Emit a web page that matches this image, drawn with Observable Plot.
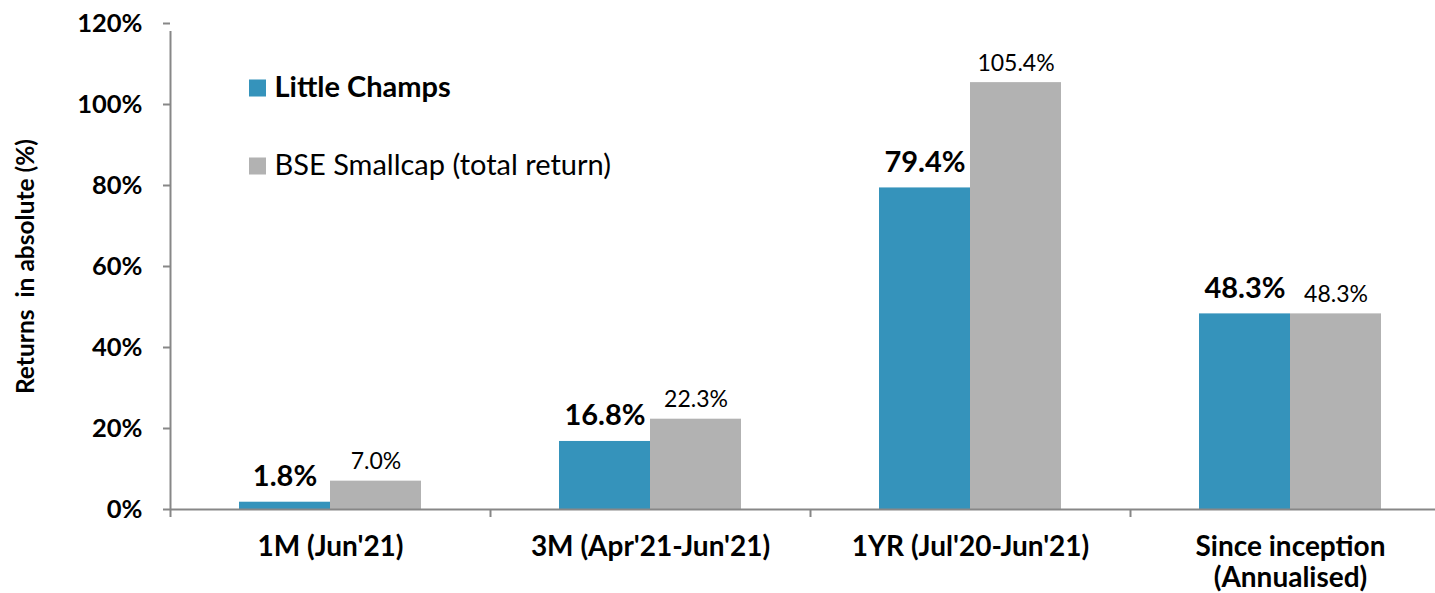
<!DOCTYPE html>
<html>
<head>
<meta charset="utf-8">
<script src="https://cdn.jsdelivr.net/npm/d3@7"></script>
<script src="https://cdn.jsdelivr.net/npm/@observablehq/plot@0.6"></script>
<style>
  html, body { margin: 0; padding: 0; background: #fff; overflow: hidden; }
  #chart { width: 1435px; height: 593px; overflow: hidden; }
</style>
</head>
<body>
<div id="chart"></div>
<script>
const categories = ["1M (Jun'21)", "3M (Apr'21-Jun'21)", "1YR (Jul'20-Jun'21)", "Since inception\n(Annualised)"];
const littleChamps = [1.8, 16.8, 79.4, 48.3];
const bseSmallcap = [7.0, 22.3, 105.4, 48.3];
const seriesNames = ["Little Champs", "BSE Smallcap (total return)"];
const yTicks = [0, 20, 40, 60, 80, 100, 120];
const yLabel = "Returns  in absolute (%)";

const blue = "#3593bb";
const gray = "#b2b2b2";
const axisColor = "#878787";

const lc = categories.map((c, i) => ({cat: c, v: littleChamps[i]}));
const bse = categories.map((c, i) => ({cat: c, v: bseSmallcap[i]}));
const fmt = v => v.toFixed(1) + "%";
const yMax = yTicks[yTicks.length - 1];

const chart = Plot.plot({
  width: 1435,
  height: 593,
  marginLeft: 170,
  marginRight: 0,
  marginTop: 23,
  marginBottom: 84,
  style: {fontFamily: "Lato, 'Open Sans', sans-serif", background: "#fff", color: "#000"},
  x: {domain: categories, range: [170, 1450], padding: 0},
  y: {domain: [0, yMax]},
  marks: [
    Plot.barY(lc, {x: "cat", y: "v", fill: blue, insetLeft: 69, insetRight: 160}),
    Plot.barY(bse, {x: "cat", y: "v", fill: gray, insetLeft: 160, insetRight: 69}),
    Plot.text(lc, {x: "cat", y: "v", text: d => fmt(d.v), dx: -45.5, dy: -16, lineAnchor: "bottom", fontSize: 29, fontWeight: "bold", fill: "#000"}),
    Plot.text(bse, {x: "cat", y: "v", text: d => fmt(d.v), dx: 45.5, dy: -12, lineAnchor: "bottom", fontSize: 23, fill: "#000"}),
    Plot.ruleY([0], {stroke: axisColor, strokeWidth: 2}),
    Plot.ruleX(categories, {x: d => d, y1: 0, y2: 0, dx: -160, insetBottom: -8, stroke: axisColor, strokeWidth: 2}),
    Plot.ruleX([categories[0]], {x: d => d, y1: 0, y2: yMax, dx: -160, insetBottom: -8, stroke: axisColor, strokeWidth: 2}),
    Plot.tickY(yTicks, {y: d => d, x: () => categories[0], insetRight: 313, dx: -7, stroke: axisColor, strokeWidth: 2}),
    Plot.axisY({ticks: yTicks, tickFormat: d => d + "%", tickSize: 0, tickPadding: 28, fontSize: 25.5, fontWeight: "bold", label: null}),
    Plot.axisX({tickSize: 0, tickPadding: 25, fontSize: 28, fontWeight: "bold", lineHeight: 1.1, label: null}),
    Plot.text([yLabel], {frameAnchor: "left", dx: -144, rotate: -90, textAnchor: "middle", lineAnchor: "middle", fontSize: 24.5, fontWeight: "bold", fill: "#000"}),
    Plot.dot([seriesNames[0]], {frameAnchor: "top-left", dx: 87, dy: 64.5, symbol: "square", r: 9.6, fill: blue, stroke: null}),
    Plot.dot([seriesNames[1]], {frameAnchor: "top-left", dx: 87, dy: 142.5, symbol: "square", r: 9.6, fill: gray, stroke: null}),
    Plot.text([seriesNames[0]], {frameAnchor: "top-left", dx: 104, dy: 64, textAnchor: "start", lineAnchor: "middle", fontSize: 29, fontWeight: "bold", fill: "#000"}),
    Plot.text([seriesNames[1]], {frameAnchor: "top-left", dx: 104, dy: 142, textAnchor: "start", lineAnchor: "middle", fontSize: 29, fill: "#000"})
  ]
});
document.getElementById("chart").appendChild(chart);
</script>
</body>
</html>
